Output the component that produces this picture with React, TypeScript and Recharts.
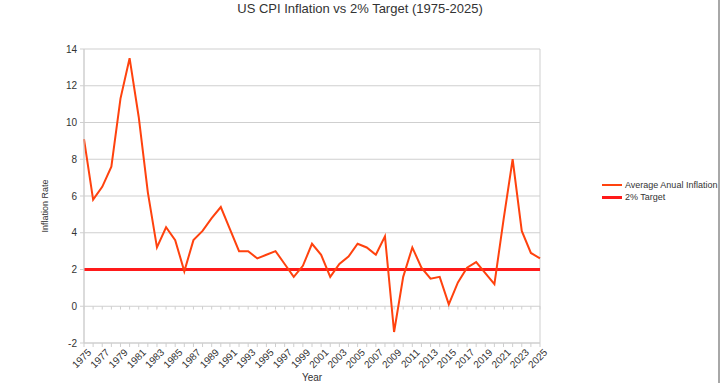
import React from 'react';
import { LineChart, Line, XAxis, YAxis, CartesianGrid, Legend, ReferenceLine } from 'recharts';

const years: number[] = [
  1975, 1976, 1977, 1978, 1979, 1980, 1981, 1982, 1983, 1984,
  1985, 1986, 1987, 1988, 1989, 1990, 1991, 1992, 1993, 1994,
  1995, 1996, 1997, 1998, 1999, 2000, 2001, 2002, 2003, 2004,
  2005, 2006, 2007, 2008, 2009, 2010, 2011, 2012, 2013, 2014,
  2015, 2016, 2017, 2018, 2019, 2020, 2021, 2022, 2023, 2024, 2025,
];

const inflation: number[] = [
  9.1, 5.8, 6.5, 7.6, 11.3, 13.5, 10.3, 6.2, 3.2, 4.3,
  3.6, 1.9, 3.6, 4.1, 4.8, 5.4, 4.2, 3.0, 3.0, 2.6,
  2.8, 3.0, 2.3, 1.6, 2.2, 3.4, 2.8, 1.6, 2.3, 2.7,
  3.4, 3.2, 2.8, 3.8, -1.4, 1.6, 3.2, 2.1, 1.5, 1.6,
  0.1, 1.3, 2.1, 2.4, 1.8, 1.2, 4.7, 8.0, 4.1, 2.9, 2.6,
];

const target: number[] = years.map(() => 2);

const yTicks: number[] = [-2, 0, 2, 4, 6, 8, 10, 12, 14];

const data = years.map((y, i) => ({ year: y, inflation: inflation[i], target: target[i] }));

const FONT = '"Liberation Sans", Arial, sans-serif';
const TEXT = '#333333';
const GRID = '#cfcfcf';

const XTick = (props: any) => {
  const { x, y, payload, index } = props;
  if (index % 2 !== 0) return null;
  return (
    <g transform={`translate(${x + 3},${y - 1})`}>
      <text
        textAnchor="end"
        transform="rotate(-45)"
        dy="0.71em"
        fontSize={10}
        fontFamily={FONT}
        fill={TEXT}
      >
        {payload.value}
      </text>
    </g>
  );
};

const LegendContent = () => (
  <div style={{ fontFamily: FONT, fontSize: 9, color: TEXT, lineHeight: '12px', whiteSpace: 'nowrap' }}>
    <div style={{ display: 'flex', alignItems: 'center' }}>
      <div style={{ width: 20, height: 2, background: '#ff420e', marginRight: 3, flexShrink: 0 }} />
      <span>Average Anual Inflation</span>
    </div>
    <div style={{ display: 'flex', alignItems: 'center' }}>
      <div style={{ width: 20, height: 3, background: '#ff1a1a', marginRight: 3, flexShrink: 0 }} />
      <span>2% Target</span>
    </div>
  </div>
);

export default function App() {
  return (
    <div
      style={{
        position: 'fixed',
        left: 0,
        top: 0,
        width: 720,
        height: 383,
        background: '#fff',
        overflow: 'hidden',
      }}
    >
      <div
        style={{
          position: 'absolute',
          left: 0,
          top: 1,
          width: 720,
          textAlign: 'center',
          fontFamily: FONT,
          fontSize: 13,
          color: TEXT,
        }}
      >
        US CPI Inflation vs 2% Target (1975-2025)
      </div>
      <div
        style={{
          position: 'absolute',
          right: 0,
          top: 0,
          width: 2,
          height: 383,
          background: '#a8a8a8',
        }}
      />
      <LineChart
        width={720}
        height={383}
        data={data}
        margin={{ top: 49, right: 180, bottom: 0, left: 30 }}
      >
        <CartesianGrid vertical={false} stroke={GRID} strokeWidth={1} />
        <ReferenceLine x={1975} stroke={GRID} />
        <ReferenceLine x={2025} stroke={GRID} />
        {years.map((yr) => (
          <ReferenceLine
            key={yr}
            segment={[{ x: yr, y: 0 }, { x: yr, y: -0.18 }]}
            stroke={GRID}
          />
        ))}
        <XAxis
          dataKey="year"
          type="category"
          interval={0}
          padding={{ left: 0, right: 0 }}
          axisLine={{ stroke: GRID }}
          tickLine={{ stroke: GRID }}
          tickSize={4}
          tick={<XTick />}
          height={40}
          label={(props: any) => {
            const vb = props.viewBox;
            return (
              <text
                x={vb.x + vb.width / 2}
                y={381}
                textAnchor="middle"
                fontSize={10}
                fontFamily={FONT}
                fill={TEXT}
              >
                Year
              </text>
            );
          }}
        />
        <YAxis
          domain={[-2, 14]}
          ticks={yTicks}
          interval={0}
          width={54}
          axisLine={{ stroke: GRID }}
          tickLine={{ stroke: GRID }}
          tickSize={4}
          tickMargin={3}
          tick={{ fontSize: 10, fontFamily: FONT, fill: TEXT }}
          label={(props: any) => {
            const vb = props.viewBox;
            const cy = vb.y + vb.height / 2 + 10;
            return (
              <text
                x={48}
                y={cy}
                transform={`rotate(-90, 48, ${cy})`}
                textAnchor="middle"
                fontSize={9}
                fontFamily={FONT}
                fill={TEXT}
              >
                Inflation Rate
              </text>
            );
          }}
        />
        <Legend
          layout="vertical"
          align="center"
          verticalAlign="middle"
          content={<LegendContent />}
          wrapperStyle={{ left: 602, top: 179, width: 114 }}
        />
        <Line
          type="linear"
          dataKey="target"
          name="2% Target"
          stroke="#ff1a1a"
          strokeWidth={3}
          dot={false}
          isAnimationActive={false}
        />
        <Line
          type="linear"
          dataKey="inflation"
          name="Average Anual Inflation"
          stroke="#ff420e"
          strokeWidth={2}
          dot={false}
          isAnimationActive={false}
        />
      </LineChart>
    </div>
  );
}
